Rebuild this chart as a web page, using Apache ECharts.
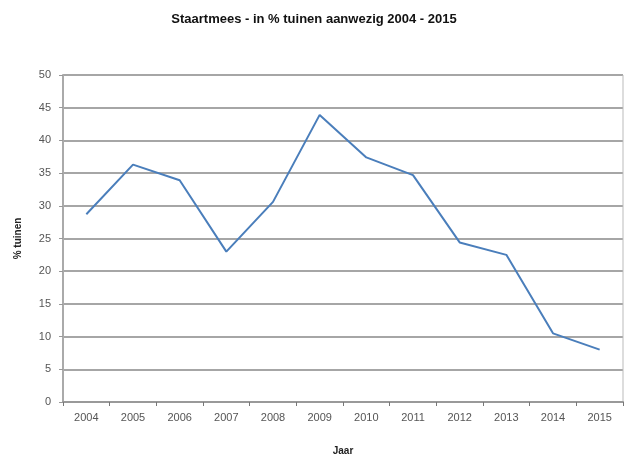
<!DOCTYPE html>
<html>
<head>
<meta charset="utf-8">
<script src="https://cdn.jsdelivr.net/npm/echarts@6/dist/echarts.min.js"></script>
<style>
  html, body { margin: 0; padding: 0; background: #fff; }
  #chart { width: 628px; height: 458px; }
</style>
</head>
<body>
<div id="chart"></div>
<script>
var years = ['2004', '2005', '2006', '2007', '2008', '2009', '2010', '2011', '2012', '2013', '2014', '2015'];
var tuinen = [28.7, 36.3, 33.9, 23.0, 30.6, 43.9, 37.4, 34.7, 24.4, 22.5, 10.5, 8.0];

var chart = echarts.init(document.getElementById('chart'));
var option = {
    animation: false,
    backgroundColor: '#fff',
    title: {
        text: 'Staartmees - in % tuinen aanwezig 2004 - 2015',
        left: 'center',
        top: 8,
        textStyle: { fontFamily: 'Liberation Sans', fontSize: 13, fontWeight: 'bold', color: '#111' }
    },
    grid: { left: 63, right: 5, top: 75, bottom: 56, outerBoundsMode: 'none' },
    xAxis: {
        type: 'category',
        data: years,
        boundaryGap: true,
        name: 'Jaar',
        nameLocation: 'middle',
        nameGap: 44,
        nameTextStyle: { fontFamily: 'Liberation Sans', fontSize: 10, fontWeight: 'bold', color: '#222' },
        axisLine: { lineStyle: { color: '#999', width: 2 } },
        axisTick: { show: true, alignWithLabel: false, length: 4, lineStyle: { color: '#777' } },
        axisLabel: { fontFamily: 'Liberation Sans', fontSize: 11, color: '#555', margin: 10 }
    },
    yAxis: {
        type: 'value',
        min: 0,
        max: 50,
        interval: 5,
        name: '% tuinen',
        nameLocation: 'middle',
        nameGap: 40,
        nameTextStyle: { fontFamily: 'Liberation Sans', fontSize: 10, fontWeight: 'bold', color: '#222' },
        axisLine: { show: true, lineStyle: { color: '#aaa', width: 2 } },
        axisTick: { show: true, length: 4, lineStyle: { color: '#999' } },
        axisLabel: { fontFamily: 'Liberation Sans', fontSize: 11, color: '#555', margin: 12 },
        splitLine: { lineStyle: { color: '#a6a6a6', width: 2 } }
    },
    series: [{
        type: 'line',
        data: tuinen,
        symbol: 'none',
        lineStyle: { color: '#4a7ebb', width: 2 }
    }]
};
chart.setOption(option);
// rechterrand van het plotvlak
chart.setOption({
    graphic: [{
        type: 'line',
        shape: { x1: 623, y1: 75, x2: 623, y2: 402 },
        style: { stroke: '#bbb', lineWidth: 1 }
    }]
});
</script>
</body>
</html>
